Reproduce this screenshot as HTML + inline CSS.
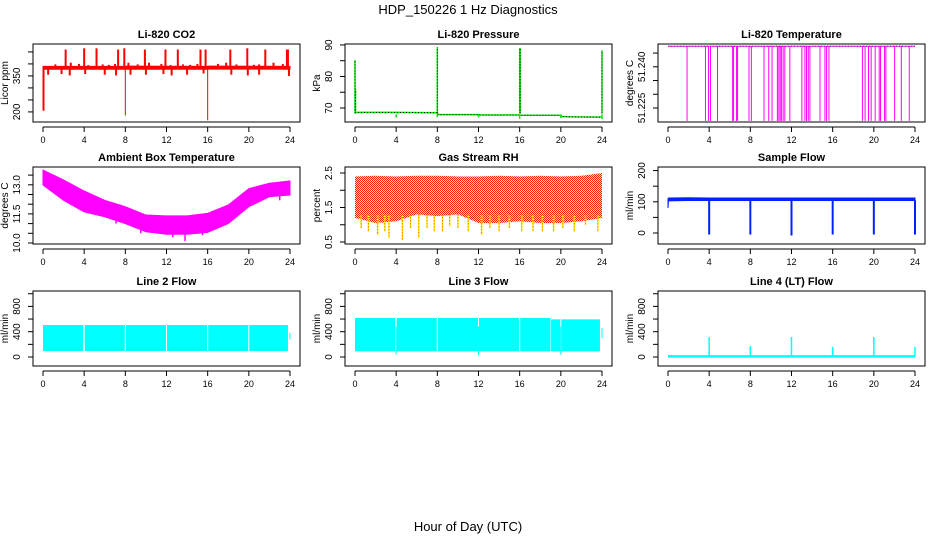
<!DOCTYPE html>
<html><head><meta charset="utf-8"><title>HDP_150226 1 Hz Diagnostics</title>
<style>
html,body{margin:0;padding:0;background:#fff;}
svg{display:block;font-family:"Liberation Sans",Arial,sans-serif;}
</style></head>
<body>
<svg id="chart" width="936" height="540" viewBox="0 0 936 540" xmlns="http://www.w3.org/2000/svg">
<defs>
<pattern id="rhPat" width="2" height="2" patternUnits="userSpaceOnUse">
<rect width="2" height="2" fill="#ffff00"/>
<rect x="0" y="0" width="1" height="1" fill="#ff2000"/>
<rect x="1" y="1" width="1" height="1" fill="#ff2000"/>
</pattern>
</defs>
<text x="468" y="14" text-anchor="middle" font-size="13">HDP_150226  1 Hz Diagnostics</text>
<text x="468" y="531" text-anchor="middle" font-size="13">Hour of Day (UTC)</text>
</svg>
<script>
// ---------- data ----------
const xTicks = [0,4,8,12,16,20,24];
// CO2
const co2BaseT = [0,0.1,8,8.1,16,16.1,24];
const co2BaseLo = [376,378,378,378,378,379,378];
const co2BaseHi = [390,390,390,391,390,391,390];
const co2BigUpT = [2.2,4.0,5.2,7.3,7.9,9.9,11.9,13.1,15.3,15.8,18.2,19.85,21.6,23.7,23.8];
const co2BigUpV = [460,465,465,460,465,460,460,460,460,460,460,465,460,460,460];
const co2SmallUpT = [1.2,2.7,3.5,4.4,5.8,6.4,7.0,8.3,9.2,10.3,11.5,12.4,13.6,14.3,15.0,17.0,17.8,18.8,20.5,21.0,22.4,23.3];
const co2SmallUpV = [398,405,400,395,398,396,400,405,398,405,400,395,398,396,400,400,405,398,396,398,405,400];
const co2DipT = [0.5,1.8,2.6,4.1,6.0,7.1,8.5,10.0,11.7,12.5,14.0,15.6,18.3,19.9,21.0,23.9];
const co2DipV = [355,358,352,358,355,352,355,355,358,352,355,360,355,352,355,350];
const co2BigDnT = [0.05,8.0,16.0];
const co2BigDnV = [205,185,165];
// Pressure
const presT = [0,0.02,4,4.02,8,8.05,12,12.05,16,16.1,20,20.1,21,24];
const presV = [68.6,68.6,68.6,68.6,68.5,67.9,67.9,67.8,67.8,67.7,67.7,67.3,67.2,67.1];
const presSpikeT = [0,0.05,8,16,16.05,24];
const presSpikeV = [85.2,76,89.3,89,89,88.3];
const presDipT = [4,8,12,16,20,24];
const presDipV = [67,67.1,67,66.6,66.8,66.5];
// Li-820 temperature
const ltTop = 51.2475, ltLow = 51.2203;
const ltDropT = [1.85,3.64,3.93,4.13,4.81,6.28,6.37,6.66,6.76,7.87,8.10,9.33,9.79,10.11,10.63,10.77,10.9,11.02,11.19,11.35,11.84,13.01,13.3,13.46,13.63,13.79,14.77,15.25,15.41,15.64,18.89,19.15,19.48,19.74,20.13,20.52,20.65,21.04,21.17,22.02,22.67,23.44];
// Ambient box temperature
const ambT = [0,2,4,6,8,10,12,14,16,18,20,22,24];
const ambHi = [13.76,13.25,12.68,12.2,11.87,11.44,11.4,11.4,11.53,11.96,12.8,13.08,13.2];
const ambLo = [12.99,12.2,11.6,11.35,11.0,10.58,10.45,10.45,10.55,11.0,11.87,12.39,12.47];
const ambDipT = [2.6,5.0,7.1,9.5,12.6,13.8,15.5,21.0,23.0];
const ambDipV = [12.0,11.5,11.0,10.5,10.3,10.1,10.4,12.3,12.2];
// Gas stream RH
const rhT = [0,2,4,6,8,10,12,14,16,18,20,22,24];
const rhHi = [2.40,2.42,2.40,2.42,2.42,2.40,2.40,2.42,2.40,2.42,2.40,2.42,2.50];
const rhLo = [1.20,1.05,1.10,1.30,1.25,1.30,1.05,1.05,1.10,1.05,1.05,1.10,1.20];
const rhSpikeT = [0.6,1.3,2.2,2.9,3.3,4.6,5.4,6.2,7.0,7.7,8.5,9.2,10.0,11.0,12.3,13.1,14.0,15.0,16.2,17.3,18.2,19.3,20.2,21.3,22.4,23.6];
const rhSpikeV = [0.9,0.8,0.7,0.8,0.6,0.55,0.9,0.6,0.9,0.8,0.8,0.95,0.9,0.8,0.7,0.9,0.8,0.9,0.8,0.8,0.8,0.8,0.9,0.8,1.0,0.8];
// Sample flow
const sfT = [0,0.05,2,4,8,12,16,20,24];
const sfLo = [80,103,104,104,104,104,104,104,104];
const sfHi = [110,112,113,112,112,112,112,112,112];
const sfDipT = [4,8,12,16,20,24];
const sfDipV = [-5,-5,-8,-5,-5,-5];
// Line 2 flow
const l2Start = [0,4.05,8.05,12.05,16.05,20.05,23.95];
const l2End = [3.9,7.95,11.95,15.95,19.95,23.8,24.0];
const l2Lo = [95,95,95,95,95,95,280];
const l2Hi = [505,505,505,505,505,505,380];
// Line 3 flow
const l3Start = [0,4.05,8.05,12.05,16.05,19.05,20.05,23.95];
const l3End = [3.9,7.95,11.95,15.95,19.0,19.95,23.8,24.0];
const l3Lo = [90,90,90,90,90,90,90,300];
const l3Hi = [616,616,616,616,616,595,595,460];
const l3DipT = [4.0,12.0,20.0];
const l3DipV = [35,30,35];
// Line 4 flow
const l4Base = 10;
const l4SpikeT = [4,8,12,16,20,24];
const l4SpikeV = [316,175,316,160,316,160];

// ---------- helpers ----------
const NS = 'http://www.w3.org/2000/svg';
const svg = document.getElementById('chart');
function mk(tag, attrs, parent){
  const e = document.createElementNS(NS, tag);
  for (const k in attrs) e.setAttribute(k, attrs[k]);
  (parent || svg).appendChild(e);
  return e;
}
const colX = [33,345,658];
const rowY = [44,167,291];
const rowH = [78,77,75];
const BW = 267;

function panel(col,row,title,ylab,ylim,ticks,labels,name){
  const bx = colX[col], by = rowY[row], bh = rowH[row];
  const g = mk('g',{});
  
  
  const x = t => bx + 10 + t/24*(BW-20);
  const y = v => by + (ylim[1]-v)/(ylim[1]-ylim[0])*bh;
  const tt = mk('text',{x:bx+BW/2,y:by-6,'text-anchor':'middle','font-size':11,'font-weight':'bold'},g);
  tt.textContent = title;
  
  
  const yt = mk('text',{x:bx-25,y:by+bh/2,'text-anchor':'middle','font-size':10,transform:`rotate(-90 ${bx-25} ${by+bh/2})`},g);
  yt.textContent = ylab;
  
  
  const yax = mk('g',{},g);
  
  
  mk('line',{x1:bx,x2:bx,y1:y(ticks[0]),y2:y(ticks[ticks.length-1]),stroke:'#000'},yax);
  ticks.forEach((v,i)=>{
    const ty = y(v);
    mk('line',{x1:bx-5,x2:bx,y1:ty,y2:ty,stroke:'#000'},yax);
    if (labels[i]) {
      const l = mk('text',{x:bx-13,y:ty,'text-anchor':'middle','font-size':10,transform:`rotate(-90 ${bx-13} ${ty})`},yax);
      l.textContent = labels[i];
      
      
    }
  });
  const xax = mk('g',{},g);
  
  
  mk('line',{x1:x(0),x2:x(24),y1:by+bh+5,y2:by+bh+5,stroke:'#000'},xax);
  xTicks.forEach(t=>{
    mk('line',{x1:x(t),x2:x(t),y1:by+bh+5,y2:by+bh+10,stroke:'#000'},xax);
    const l = mk('text',{x:x(t),y:by+bh+21,'text-anchor':'middle','font-size':9},xax);
    l.textContent = t;
    
    
  });
  const plot = mk('g',{},g);
  
  
  const box = mk('rect',{x:bx,y:by,width:BW,height:bh,fill:'none',stroke:'#000'},g);
  
  
  return {x,y,plot};
}
function vline(p,t,v1,v2,color,w,name){
  const l = mk('line',{x1:p.x(t),x2:p.x(t),y1:p.y(v1),y2:p.y(v2),stroke:color,'stroke-width':w||1},p.plot);
  
  
  return l;
}
function band(p,T,lo,hi,fill,name){
  let pts = T.map((t,i)=>p.x(t)+','+p.y(hi[i]));
  for (let i=T.length-1;i>=0;i--) pts.push(p.x(T[i])+','+p.y(lo[i]));
  const e = mk('polygon',{points:pts.join(' '),fill:fill,stroke:fill,'stroke-width':1},p.plot);
  
  
  return e;
}
function rects(p,S,E,lo,hi,fill,name){
  S.forEach((s,i)=>{
    const r = mk('rect',{x:p.x(s),y:p.y(hi[i]),width:Math.max(1,p.x(E[i])-p.x(s)),height:p.y(lo[i])-p.y(hi[i]),fill:fill},p.plot);
    
    
  });
}

// ---------- CO2 ----------
{
  const p = panel(0,0,'Li-820 CO2','Licor ppm',[158,483],[200,250,300,350,400,450],['200','','','350','',''],'co2');
  const red = '#ff0000';
  band(p,co2BaseT,co2BaseLo,co2BaseHi,red,'co2-baseline-band');
  co2BigUpT.forEach((t,i)=>vline(p,t,385,co2BigUpV[i],red,2,'co2-spike-up'));
  co2SmallUpT.forEach((t,i)=>vline(p,t,385,co2SmallUpV[i],red,2,'co2-small-spike'));
  co2DipT.forEach((t,i)=>vline(p,t,385,co2DipV[i],red,2,'co2-dip'));
  co2BigDnT.forEach((t,i)=>vline(p,t,385,co2BigDnV[i],red,i===0?2:1,'co2-big-dip'));
}
// ---------- Pressure ----------
{
  const p = panel(1,0,'Li-820 Pressure','kPa',[65.56,90.3],[70,75,80,85,90],['70','','80','','90'],'pressure');
  const pts = presT.map((t,i)=>p.x(t)+','+p.y(presV[i])).join(' ');
  const l = mk('polyline',{points:pts,fill:'none',stroke:'#00ee00','stroke-width':1.5},p.plot);
  
  
  const l2 = mk('polyline',{points:pts,fill:'none',stroke:'#000','stroke-width':1,'stroke-dasharray':'1,2'},p.plot);
  
  
  presSpikeT.forEach((t,i)=>{
    vline(p,t,68.3,presSpikeV[i],'#00ee00',1.5,'pressure-spike');
    const d = vline(p,t,68.3,presSpikeV[i],'#000',1,'pressure-spike-dots');
    d.setAttribute('stroke-dasharray','1,2');
  });
  presDipT.forEach((t,i)=>vline(p,t,68,presDipV[i],'#00ee00',1.5,'pressure-dip'));
}
// ---------- Li-820 Temperature ----------
{
  const p = panel(2,0,'Li-820 Temperature','degrees C',[51.2199,51.2483],[51.225,51.23,51.235,51.24,51.245],['51.225','','','51.240',''],'li820-temp');
  const l = mk('line',{x1:p.x(0),x2:p.x(24),y1:p.y(ltTop),y2:p.y(ltTop),stroke:'#ff00ff','stroke-width':1},p.plot);
  
  
  const l2 = mk('line',{x1:p.x(0),x2:p.x(24),y1:p.y(ltTop),y2:p.y(ltTop),stroke:'#000','stroke-width':0.6,'stroke-dasharray':'1,2'},p.plot);
  
  
  ltDropT.forEach(t=>vline(p,t,ltTop,ltLow,'#ff00ff',1,'li820-temp-drop'));
}
// ---------- Ambient ----------
{
  const p = panel(0,1,'Ambient Box Temperature','degrees C',[9.948,13.918],[10,10.5,11,11.5,12,12.5,13,13.5],['10.0','','','11.5','','','13.0',''],'ambient-temp');
  band(p,ambT,ambLo,ambHi,'#ff00ff','ambient-temp-band');
  ambDipT.forEach((t,i)=>vline(p,t,ambDipV[i]+0.6,ambDipV[i],'#ff00ff',1.5,'ambient-temp-dip'));
}
// ---------- RH ----------
{
  const p = panel(1,1,'Gas Stream RH','percent',[0.442,2.674],[0.5,1,1.5,2,2.5],['0.5','','1.5','','2.5'],'gas-rh');
  band(p,rhT,rhLo,rhHi,'url(#rhPat)','gas-rh-band').setAttribute('stroke','none');
  rhSpikeT.forEach((t,i)=>{
    vline(p,t,1.3,rhSpikeV[i],'#ffff00',1.5,'gas-rh-spike');
    const d = vline(p,t,1.3,rhSpikeV[i],'#ff2000',1,'gas-rh-spike-dots');
    d.setAttribute('stroke-dasharray','1,2');
  });
}
// ---------- Sample flow ----------
{
  const p = panel(2,1,'Sample Flow','ml/min',[-35.3,211.5],[0,50,100,150,200],['0','','100','','200'],'sample-flow');
  band(p,sfT,sfLo,sfHi,'#0022ff','sample-flow-band');
  sfDipT.forEach((t,i)=>vline(p,t,105,sfDipV[i],'#0022ff',2,'sample-flow-dip'));
}
// ---------- Line 2 ----------
const flowTicks = [0,200,400,600,800,1000];
const flowLabels = ['0','','400','','800',''];
{
  const p = panel(0,2,'Line 2 Flow','ml/min',[-142,1043],flowTicks,flowLabels,'line2-flow');
  rects(p,l2Start,l2End,l2Lo,l2Hi,'#00ffff','line2-flow-block');
}
// ---------- Line 3 ----------
{
  const p = panel(1,2,'Line 3 Flow','ml/min',[-142,1043],flowTicks,flowLabels,'line3-flow');
  rects(p,l3Start,l3End,l3Lo,l3Hi,'#00ffff','line3-flow-block');
  l3DipT.forEach((t,i)=>vline(p,t,480,l3DipV[i],'#00ffff',1,'line3-flow-dip'));
}
// ---------- Line 4 ----------
{
  const p = panel(2,2,'Line 4 (LT) Flow','ml/min',[-142,1043],flowTicks,flowLabels,'line4-flow');
  const l = mk('line',{x1:p.x(0),x2:p.x(24),y1:p.y(l4Base),y2:p.y(l4Base),stroke:'#00ffff','stroke-width':2.5},p.plot);
  
  
  l4SpikeT.forEach((t,i)=>vline(p,t,l4Base,l4SpikeV[i],'#00ffff',1.5,'line4-flow-spike'));
}
</script>
</body></html>
